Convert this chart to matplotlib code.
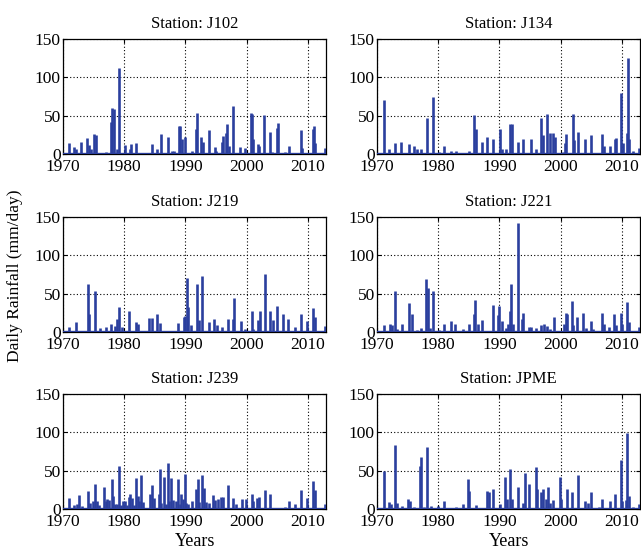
import numpy as np
import matplotlib
matplotlib.use("Agg")
import matplotlib.pyplot as plt

# spike events per station: (decimal year, daily rainfall in mm/day)
j102_years = [1971.0, 1971.9, 1972.2, 1973.0, 1973.9, 1974.3, 1974.6, 1975.1, 1975.35, 1977.1,
              1977.8, 1978.1, 1978.3, 1978.8, 1979.1, 1980.1, 1981.0, 1981.2, 1982.0, 1984.6,
              1985.4, 1986.0, 1987.2, 1987.9, 1988.2, 1988.9, 1989.1, 1989.4, 1989.9, 1991.1,
              1991.8, 1991.9, 1992.6, 1992.9, 1993.8, 1994.8, 1995.0, 1995.9, 1996.1, 1996.6,
              1996.8, 1997.1, 1997.8, 1998.9, 1999.7, 2000.7, 2000.9, 2001.1, 2001.9, 2002.1,
              2002.8, 2003.8, 2004.2, 2004.9, 2005.2, 2006.2, 2006.9, 2008.8, 2009.0, 2010.8,
              2011.0, 2011.2, 2012.8]
j102_rain = [14, 9, 6, 16, 21, 12, 7, 26, 25, 2,
             42, 60, 59, 6, 112, 12, 7, 13, 14, 13,
             7, 26, 22, 4, 4, 36, 36, 20, 22, 4,
             33, 54, 22, 16, 31, 9, 4, 16, 24, 28,
             39, 11, 62, 9, 8, 53, 52, 19, 13, 11,
             51, 29, 3, 34, 40, 3, 11, 31, 8, 32,
             36, 14, 8]

j134_years = [1971.1, 1971.9, 1973.0, 1973.9, 1975.2, 1976.0, 1976.5, 1977.2, 1978.2, 1979.1,
              1980.2, 1981.0, 1982.05, 1982.9, 1985.0, 1985.8, 1986.1, 1987.2, 1988.0, 1989.0,
              1990.05, 1990.4, 1991.1, 1991.7, 1992.1, 1993.0, 1993.9, 1995.1, 1995.9, 1996.8,
              1997.1, 1997.8, 1998.2, 1998.8, 1999.1, 2000.3, 2000.7, 2000.9, 2002.0, 2002.2,
              2002.8, 2003.9, 2004.9, 2006.8, 2007.1, 2008.0, 2008.9, 2009.1, 2009.9, 2010.2,
              2010.9, 2011.0, 2011.2, 2011.8, 2012.8]
j134_rain = [71, 6, 15, 16, 13, 11, 7, 7, 47, 74,
             3, 10, 4, 4, 4, 51, 32, 16, 22, 19,
             32, 7, 7, 39, 39, 16, 19, 19, 6, 47,
             25, 52, 27, 28, 22, 2, 14, 26, 52, 18,
             29, 19, 25, 26, 11, 10, 19, 21, 80, 14,
             27, 125, 19, 4, 8]

j219_years = [1971.0, 1972.2, 1974.1, 1974.3, 1975.2, 1976.0, 1977.0, 1977.9, 1978.5, 1978.8,
              1979.1, 1979.7, 1980.8, 1982.0, 1982.3, 1984.1, 1984.6, 1985.3, 1985.9, 1988.8,
              1989.7, 1989.9, 1990.2, 1990.4, 1991.0, 1991.9, 1992.2, 1992.7, 1993.8, 1994.6,
              1995.1, 1995.9, 1997.0, 1997.7, 1998.0, 1999.1, 1999.8, 2000.8, 2001.1, 2001.9,
              2002.2, 2003.0, 2003.8, 2004.3, 2005.0, 2006.0, 2006.8, 2007.9, 2008.8, 2009.8,
              2010.9, 2011.2, 2012.8]
j219_rain = [7, 13, 62, 24, 54, 5, 7, 11, 8, 17,
             32, 7, 28, 13, 10, 18, 18, 24, 12, 12,
             19, 21, 71, 32, 9, 63, 16, 73, 13, 17,
             9, 7, 17, 17, 44, 14, 4, 28, 4, 16,
             28, 76, 28, 15, 34, 23, 17, 7, 24, 14,
             31, 19, 8]

j221_years = [1971.2, 1972.1, 1972.4, 1972.9, 1973.3, 1974.1, 1975.3, 1975.7, 1976.6, 1977.2,
              1978.0, 1978.3, 1978.7, 1979.1, 1980.1, 1981.0, 1982.05, 1982.8, 1984.0, 1985.0,
              1985.8, 1986.0, 1986.5, 1987.2, 1988.9, 1989.8, 1990.0, 1990.4, 1991.1, 1991.4,
              1991.7, 1991.9, 1992.2, 1993.0, 1993.7, 1993.9, 1994.8, 1995.1, 1996.0, 1996.8,
              1997.2, 1997.7, 1998.3, 1998.9, 2000.6, 2000.8, 2001.0, 2001.8, 2002.0, 2002.7,
              2003.7, 2004.1, 2004.9, 2005.2, 2006.7, 2007.0, 2007.9, 2008.7, 2009.0, 2009.8,
              2010.0, 2010.9, 2011.2, 2012.7]
j221_rain = [9, 10, 9, 54, 4, 11, 38, 24, 3, 5,
             69, 57, 5, 54, 3, 10, 14, 11, 4, 10,
             24, 42, 10, 15, 35, 22, 34, 14, 5, 11,
             28, 62, 11, 142, 17, 25, 7, 7, 5, 9,
             10, 8, 4, 20, 11, 25, 24, 40, 9, 20,
             25, 5, 14, 4, 25, 11, 7, 23, 9, 25,
             11, 39, 13, 7]

j239_years = [1971.0, 1971.9, 1972.3, 1972.7, 1973.1, 1974.05, 1974.4, 1974.9, 1975.2, 1975.5,
              1975.9, 1976.7, 1977.0, 1977.2, 1977.6, 1977.95, 1978.2, 1978.5, 1978.8, 1979.1,
              1979.5, 1979.8, 1980.1, 1980.4, 1980.8, 1981.0, 1981.3, 1981.6, 1982.0, 1982.2,
              1982.4, 1982.8, 1983.1, 1984.2, 1984.6, 1984.9, 1985.7, 1985.9, 1986.1, 1986.5,
              1986.8, 1987.1, 1987.4, 1987.7, 1988.0, 1988.4, 1988.8, 1989.1, 1989.3, 1989.6,
              1989.9, 1990.1, 1990.4, 1991.1, 1991.8, 1992.0, 1992.3, 1992.7, 1993.1, 1993.4,
              1993.8, 1994.5, 1994.9, 1995.3, 1995.8, 1996.1, 1997.0, 1997.8, 1998.2, 1999.2,
              1999.9, 2000.8, 2001.1, 2001.7, 2002.05, 2003.0, 2003.8, 2006.2, 2006.9, 2007.9,
              2008.8, 2009.9, 2010.9, 2011.2, 2012.8]
j239_rain = [14, 5, 6, 18, 4, 24, 8, 10, 32, 10,
             5, 29, 10, 13, 12, 39, 17, 6, 6, 56,
             5, 10, 11, 5, 16, 20, 15, 5, 40, 17,
             10, 44, 9, 19, 31, 15, 19, 52, 8, 42,
             6, 60, 10, 40, 12, 11, 39, 6, 19, 13,
             46, 8, 6, 11, 26, 39, 9, 44, 27, 9,
             8, 18, 12, 13, 16, 16, 31, 14, 6, 13,
             13, 20, 11, 14, 16, 25, 20, 3, 10, 6,
             25, 15, 36, 25, 6]

jpme_years = [1971.1, 1972.05, 1972.3, 1972.9, 1973.2, 1974.1, 1975.0, 1975.35, 1976.1, 1977.0,
              1977.2, 1977.7, 1978.2, 1978.8, 1979.9, 1981.0, 1982.9, 1984.1, 1984.9, 1985.1,
              1986.1, 1988.0, 1988.3, 1989.0, 1990.05, 1990.9, 1991.2, 1991.8, 1992.1, 1993.0,
              1993.8, 1994.2, 1994.9, 1995.9, 1996.1, 1996.8, 1997.1, 1997.6, 1998.0, 1998.3,
              1998.8, 1999.9, 2000.1, 2001.0, 2001.8, 2002.8, 2003.9, 2004.5, 2005.0, 2006.2,
              2006.8, 2008.0, 2008.8, 2009.8, 2010.0, 2010.7, 2010.9, 2011.2, 2011.8, 2012.7]
jpme_rain = [49, 9, 6, 84, 8, 4, 13, 11, 3, 56,
             68, 3, 81, 4, 4, 10, 3, 6, 39, 23,
             5, 24, 22, 26, 7, 42, 13, 52, 13, 29,
             8, 47, 32, 55, 26, 22, 26, 13, 29, 8,
             12, 42, 13, 26, 22, 45, 11, 8, 22, 3,
             13, 10, 19, 64, 11, 12, 99, 17, 3, 6]

stations = ["J102", "J134", "J219", "J221", "J239", "JPME"]
series = [(j102_years, j102_rain), (j134_years, j134_rain),
          (j219_years, j219_rain), (j221_years, j221_rain),
          (j239_years, j239_rain), (jpme_years, jpme_rain)]

year_ticks = [1970, 1980, 1990, 2000, 2010]
rain_ticks = [0, 50, 100, 150]

plt.rcParams["font.family"] = ["Liberation Serif", "DejaVu Serif"]
plt.rcParams["font.size"] = 12

line_color = "#2b3f9e"

fig = plt.figure(figsize=(6.41, 5.51), dpi=100)

# axes boxes: [left, bottom, width, height] in figure fractions
col_left = [0.098, 0.588]
row_bottom = [0.7205, 0.3975, 0.0762]
ax_w, ax_h = 0.411, 0.2087

for i, (name, (yrs, rain)) in enumerate(zip(stations, series)):
    r, c = divmod(i, 2)
    ax = fig.add_axes([col_left[c], row_bottom[r], ax_w, ax_h])
    ax.axhline(0, color=line_color, lw=2.4, zorder=3)
    ax.vlines(yrs, 0, rain, color=line_color, lw=1.9, zorder=3)
    ax.set_xlim(1970, 2013)
    ax.set_ylim(0, 150)
    ax.set_xticks(year_ticks)
    ax.set_yticks(rain_ticks)
    ax.grid(True, color="black", ls=(0, (1, 2)), lw=0.8)
    ax.tick_params(direction="in", top=True, right=True, length=3, labelsize=12.5)
    ax.tick_params(axis="x", pad=3.5)
    ax.tick_params(axis="y", pad=1.5)
    for s in ax.spines.values():
        s.set_linewidth(0.9)
    ax.set_title("Station: " + name, fontsize=12, pad=8)
    if r == 2:
        ax.set_xlabel("Years", fontsize=13, labelpad=2)

fig.text(0.024, 0.5, "Daily Rainfall (mm/day)", rotation=90, va="center", ha="center", fontsize=12.5)

fig.savefig("out.png", dpi=100)
